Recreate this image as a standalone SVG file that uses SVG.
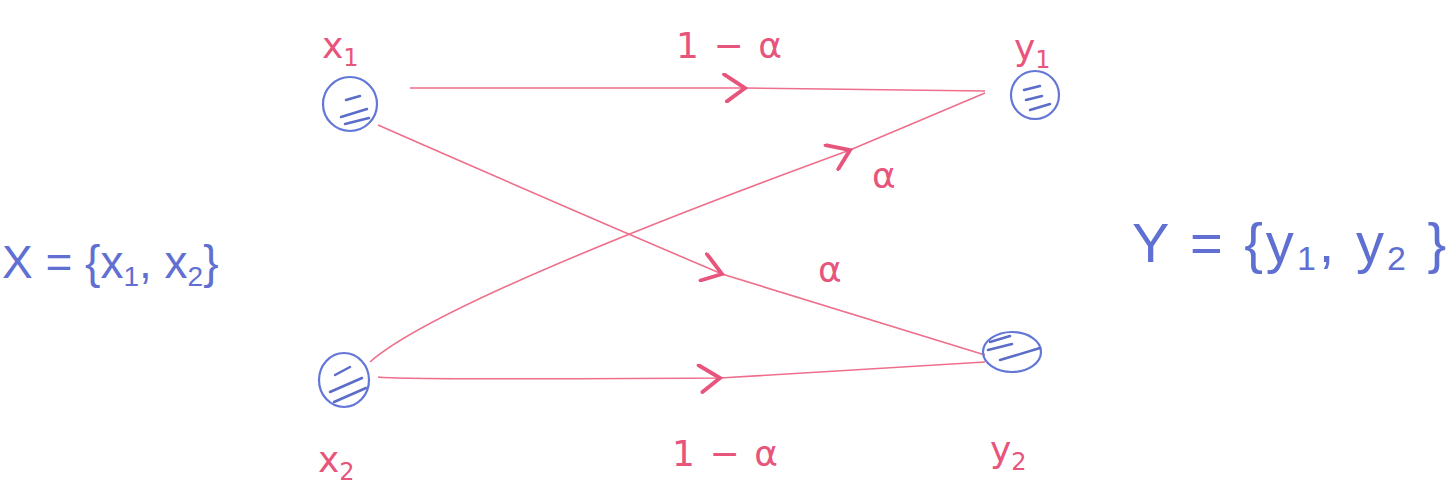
<svg xmlns="http://www.w3.org/2000/svg" width="1448" height="495" viewBox="0 0 1448 495">
<style>
.node{fill:none;stroke:#6477d6;stroke-width:2.2}
.hatch{stroke:#5b6cc9;stroke-width:2.5;stroke-linecap:round;fill:none}
.edge{fill:none;stroke:#ee6f8c;stroke-width:1.6;marker-mid:url(#chev)}
.red{fill:#e8557c;font-family:"DejaVu Sans",sans-serif}
.blue{fill:#5f70d2;font-family:"Liberation Sans",sans-serif}
</style>
<defs>
<marker id="chev" viewBox="0 0 20 20" refX="16" refY="10" markerWidth="30" markerHeight="30" markerUnits="userSpaceOnUse" orient="auto">
<path d="M2,1 L16,10 L4,19" fill="none" stroke="#e8557c" stroke-width="2.6" stroke-linecap="round"/>
</marker>
</defs>
<rect width="1448" height="495" fill="#ffffff"/>
<g id="connectors">
<path class="edge" d="M410,88 L745,88 L985,91"/>
<path class="edge" d="M378,125 Q560,205 722,274 L985,355"/>
<path class="edge" d="M370,362 Q440,300 850,150 L985,93"/>
<path class="edge" d="M378,377 Q400,380 720,378 L985,362"/>
</g>
<g id="x1">
<circle class="node" cx="350" cy="104" r="27"/>
<path class="hatch" d="M346,100 L360,96 M341,117 L367,109 M345,124 L369,118"/>
<text class="red" x="322" y="58" font-size="36">x<tspan font-size="24" dy="8">1</tspan></text>
</g>
<g id="y1">
<ellipse class="node" cx="1035" cy="95" rx="24" ry="24"/>
<path class="hatch" d="M1024,90 L1040,86 M1026,100 L1042,96 M1030,110 L1050,104"/>
<text class="red" x="1014" y="60" font-size="36">y<tspan font-size="24" dy="8">1</tspan></text>
</g>
<g id="x2">
<ellipse class="node" cx="344" cy="380" rx="25" ry="27"/>
<path class="hatch" d="M335,375 L350,367 M330,392 L362,378 M334,402 L366,388"/>
<text class="red" x="318" y="472" font-size="36">x<tspan font-size="24" dy="8">2</tspan></text>
</g>
<g id="y2">
<ellipse class="node" cx="1012" cy="352" rx="29" ry="20"/>
<path class="hatch" d="M990,342 L1010,336 M988,350 L1012,344 M1000,360 L1040,348"/>
<text class="red" x="990" y="462" font-size="36">y<tspan font-size="24" dy="8">2</tspan></text>
</g>
<g id="labels">
<text class="red" x="676" y="58" font-size="36" textLength="106">1 − α</text>
<text class="red" x="872" y="188" font-size="36">α</text>
<text class="red" x="818" y="282" font-size="36">α</text>
<text class="red" x="672" y="466" font-size="36" textLength="106">1 − α</text>
</g>
<g id="setX">
<text class="blue" x="2" y="278" font-size="46">X = {x<tspan font-size="28" dy="8">1</tspan><tspan dy="-8">, x</tspan><tspan font-size="28" dy="8">2</tspan><tspan dy="-8">}</tspan></text>
</g>
<g id="setY">
<text class="blue" x="1132" y="262" font-size="56" letter-spacing="3">Y = {y<tspan font-size="34" dy="8">1</tspan><tspan dy="-8">, y</tspan><tspan font-size="34" dy="8">2</tspan><tspan dy="-8">  }</tspan></text>
</g>
</svg>
